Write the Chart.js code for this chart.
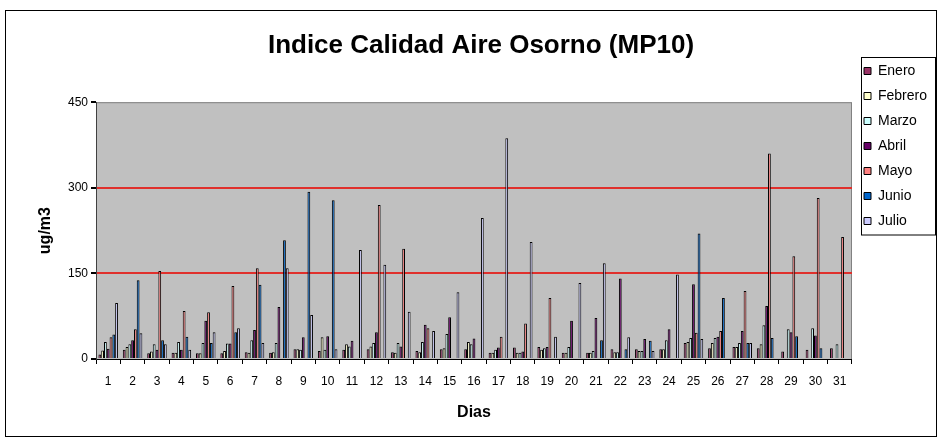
<!DOCTYPE html>
<html>
<head>
<meta charset="utf-8">
<script src="https://cdn.jsdelivr.net/npm/chart.js@4.4.0/dist/chart.umd.min.js"></script>
<style>
  html, body { margin: 0; padding: 0; background: #fff; }
</style>
</head>
<body>
<canvas id="aireChart" width="939" height="439"></canvas>
<script>
// Datos MP10 por dia (ug/m3)
const dias = ['1','2','3','4','5','6','7','8','9','10','11','12','13','14','15','16',
  '17','18','19','20','21','22','23','24','25','26','27','28','29','30','31'];

const enero   = [8,16,10,11,10,10,12,11,17,14,16,17,12,14,17,17,11,20,21,11,11,17,17,17,28,19,21,19,13,16,19];
const febrero = [15,21,13,11,10,14,11,12,17,38,26,22,11,12,19,30,11,11,16,11,11,12,14,17,30,28,21,26,null,null,null];
const marzo   = [30,26,26,30,28,27,33,28,16,16,22,28,28,30,44,26,16,11,19,21,14,12,14,33,37,37,28,59,52,54,26];
const abril   = [18,33,16,16,67,27,51,91,38,40,32,47,22,60,73,36,20,13,21,67,72,141,35,52,131,39,49,93,47,41,null];
const mayo    = [38,52,154,84,82,128,159,null,null,null,null,270,193,54,null,null,39,62,107,null,null,null,null,null,46,49,119,360,180,282,214];
const junio   = [43,138,33,39,28,47,130,208,293,278,null,null,null,null,null,null,null,null,null,null,33,17,32,null,220,107,28,37,40,19,null];
const julio   = [98,45,26,16,47,54,28,159,77,17,191,165,83,49,117,247,387,205,39,133,168,38,14,148,35,null,28,null,null,null,null];

const yTicks = [0, 150, 300, 450];
const limites = [150, 300];

const fuente = "'Liberation Sans', Arial, sans-serif";

function serie(label, data, color) {
  return {
    label: label,
    data: data,
    backgroundColor: color,
    borderColor: '#000',
    borderWidth: 1,
    categoryPercentage: 0.8,
    barPercentage: 1.0
  };
}

// fondo, marco del grafico, area gris y marco de la leyenda
const marcoPlugin = {
  id: 'marco',
  beforeDraw(chart) {
    const ctx = chart.ctx;
    const a = chart.chartArea;
    ctx.save();
    ctx.fillStyle = '#fff';
    ctx.fillRect(0, 0, chart.width, chart.height);
    ctx.strokeStyle = '#000';
    ctx.lineWidth = 1;
    ctx.strokeRect(5.5, 10.5, chart.width - 8, chart.height - 13);
    ctx.fillStyle = '#c0c0c0';
    ctx.fillRect(a.left, a.top, a.width, a.height);
    ctx.strokeStyle = '#808080';
    ctx.strokeRect(a.left + 0.5, a.top + 0.5, a.width - 1, a.height);
    ctx.restore();
  },
  afterLayout(chart) {
    const lg = chart.legend;
    const pad = lg.options.labels.padding;
    const h = lg.bottom - lg.top;
    const dx = 864 - (lg.left + pad);
    lg.left += dx;
    lg.right += dx;
    lg.top = 53;
    lg.bottom = 53 + Math.max(h, 200);
  },
  afterDraw(chart) {
    const hb = chart.legend.legendHitBoxes;
    if (!hb || !hb.length) return;
    const ctx = chart.ctx;
    const x = 861.5;
    const y = 57.5;
    const last = hb[hb.length - 1];
    ctx.save();
    ctx.strokeStyle = '#000';
    ctx.lineWidth = 1;
    ctx.strokeRect(x, y, 935.5 - x, Math.round(last.top + last.height) + 7 - y);
    ctx.restore();
  }
};

const ctx = document.getElementById('aireChart').getContext('2d');
const aireChart = new Chart(ctx, {
  type: 'bar',
  data: {
    labels: dias,
    datasets: [
      serie('Enero', enero, '#993366'),
      serie('Febrero', febrero, '#ffffcc'),
      serie('Marzo', marzo, '#ccffff'),
      serie('Abril', abril, '#660066'),
      serie('Mayo', mayo, '#ff8080'),
      serie('Junio', junio, '#0066cc'),
      serie('Julio', julio, '#ccccff')
    ]
  },
  options: {
    responsive: false,
    animation: false,
    layout: { padding: { left: 26, right: 3, top: 0, bottom: 0 } },
    plugins: {
      title: {
        display: true,
        text: 'Indice Calidad Aire Osorno (MP10)',
        color: '#000',
        font: { family: fuente, size: 26, weight: 'bold' },
        padding: { top: 30, bottom: 41 }
      },
      legend: {
        position: 'right',
        align: 'start',
        labels: {
          color: '#000',
          font: { family: fuente, size: 14 },
          boxWidth: 7,
          boxHeight: 7,
          padding: 11
        }
      },
      tooltip: { enabled: false }
    },
    scales: {
      x: {
        afterFit(scale) { scale.height = 80; },
        grid: {
          drawOnChartArea: false,
          drawTicks: true,
          tickLength: 5,
          tickColor: '#000',
          offset: true
        },
        border: { color: '#000', width: 1 },
        ticks: {
          color: '#000',
          font: { family: fuente, size: 12 },
          padding: 10,
          maxRotation: 0,
          autoSkip: false
        },
        title: {
          display: true,
          text: 'Dias',
          color: '#000',
          font: { family: fuente, size: 16, weight: 'bold' },
          padding: { top: 0, bottom: 17 }
        }
      },
      y: {
        min: 0,
        max: 450,
        afterFit(scale) { scale.width = 70; },
        afterBuildTicks(scale) { scale.ticks = yTicks.map(v => ({ value: v })); },
        grid: {
          color: c => limites.includes(c.tick.value) ? '#e0302c' : 'rgba(0,0,0,0)',
          lineWidth: 2,
          tickColor: '#000',
          tickLength: 5
        },
        border: { color: '#404040', width: 1 },
        ticks: {
          color: '#000',
          font: { family: fuente, size: 12 },
          padding: 3
        },
        title: {
          display: true,
          text: 'ug/m3',
          color: '#000',
          font: { family: fuente, size: 16, weight: 'bold' },
          padding: { top: 10, bottom: 0 }
        }
      }
    }
  },
  plugins: [marcoPlugin]
});
</script>
</body>
</html>
